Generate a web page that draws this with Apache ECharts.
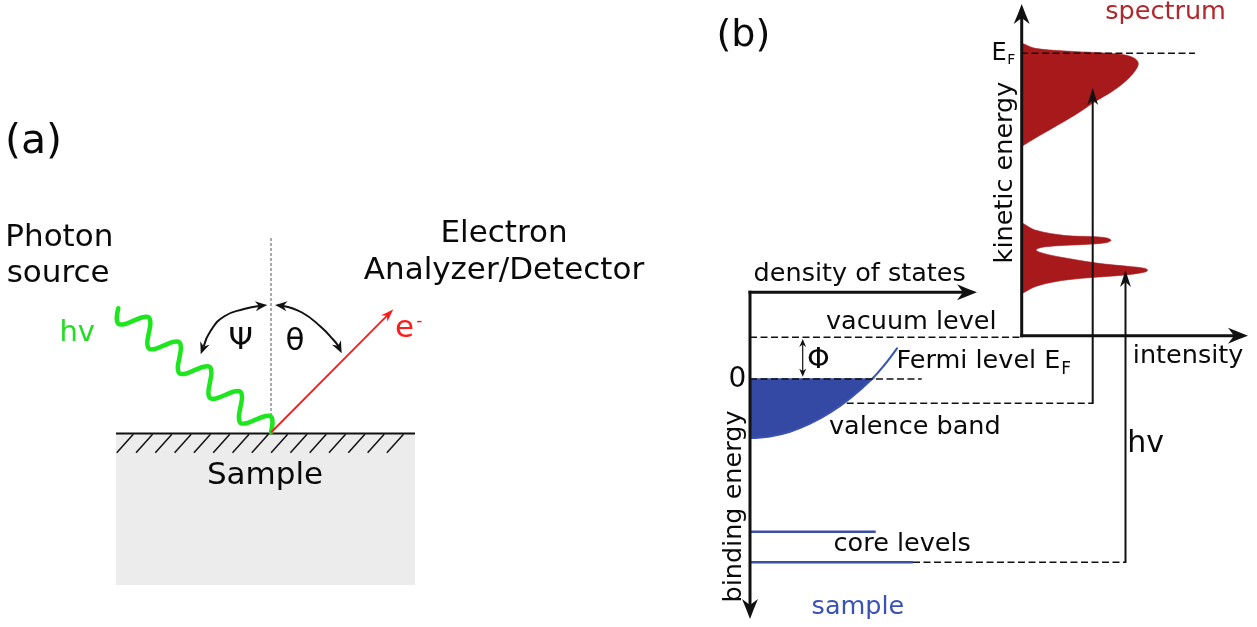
<!DOCTYPE html>
<html>
<head>
<meta charset="utf-8">
<script src="https://cdn.jsdelivr.net/npm/echarts@6/dist/echarts.min.js"></script>
<style>
  html, body { margin: 0; padding: 0; background: #ffffff; }
  #chart { width: 1257px; height: 627px; }
</style>
</head>
<body>
<div id="chart"></div>
<script>
// ===== Panel (a): photoemission geometry (diagram units) =====
const sampleBlock = [[116, 433], [415, 433], [415, 585], [116, 585]];
const surfaceLine = [[116, 433.5], [415, 433.5]];
const hatchStarts = [116.7, 136, 155.3, 174.6, 193.9, 213.2, 232.5, 251.8, 271.1, 290.4, 309.7, 329, 348.3, 367.6, 386.9];
const surfaceNormal = [[271, 238], [271, 432]];
const photonWave = [
  [118.3, 308.3], [116.8, 318.0], [118.4, 323.8], [124.4, 324.2], [133.6, 320.7],
  [142.7, 317.2], [148.8, 317.5], [150.4, 323.4], [148.8, 333.1], [147.3, 342.8],
  [148.9, 348.6], [154.9, 349.0], [164.1, 345.4], [173.3, 341.9], [179.3, 342.3],
  [180.9, 348.1], [179.4, 357.8], [177.8, 367.5], [179.4, 373.3], [185.5, 373.7],
  [194.6, 370.2], [203.8, 366.7], [209.8, 367.1], [211.4, 372.9], [209.9, 382.6],
  [208.4, 392.3], [210.0, 398.1], [216.0, 398.5], [225.2, 395.0], [234.3, 391.5],
  [240.4, 391.8], [242.0, 397.6], [240.4, 407.3], [238.9, 417.0], [240.5, 422.9],
  [246.6, 423.2], [255.7, 419.7], [264.9, 416.2], [270.9, 416.6], [272.5, 422.4],
  [271.0, 432.1]
];
const psiArc = [[259, 305.9], [244, 309], [224, 316.5], [210.5, 331], [204, 345.5]];
const thetaArc = [[283, 305.9], [302, 312.5], [321, 327], [334, 340.5], [338, 345.5]];
const electronPath = [[271, 432.5], [393.3, 309.3]];

// ===== Panel (b): energy levels and spectrum (diagram units) =====
const valenceBand = [[750, 438], [770, 436.4], [790, 431.7], [810, 423.7], [830, 412.7], [850, 398.4], [872, 379]];
const valenceTail = [[884, 365.5], [897, 348.3]];
const coreLevels = [
  [[750, 531.7], [875.7, 531.7]],
  [[750, 562.3], [913, 562.3]]
];
const guideLevels = [
  [[750, 337.3], [1021, 337.3]],     // vacuum level
  [[750, 379], [921.7, 379]],        // Fermi level
  [[846.7, 403.3], [1092.7, 403.3]], // valence-band emission
  [[913, 562.3], [1125.7, 562.3]],   // core-level emission
  [[1021, 53.3], [1195, 53.3]]       // E_F in the spectrum
];
const spectrumValence = [
  [1021, 43], [1024, 44], [1035, 48.3], [1065, 51], [1098.3, 52.7], [1122, 54.5],
  [1134, 58], [1138.3, 63.3], [1135, 71], [1125, 81.7], [1111.7, 91.7], [1095, 101.7],
  [1075, 115], [1055, 126.7], [1035, 138.3], [1024, 145], [1021, 147]
];
const spectrumCore = [
  [1021, 222.5], [1024, 224], [1035, 230], [1065, 235.5], [1095, 236.7], [1107, 238],
  [1111, 240.3], [1107, 242.5], [1088.3, 244.3], [1058.3, 245.7], [1041, 247.5], [1036, 250],
  [1041, 252.7], [1058.3, 256.7], [1098.3, 263.3], [1131.7, 266.7], [1144, 268.2], [1147.7, 270.2],
  [1144, 272.3], [1125, 275], [1081.7, 278.3], [1055, 281.7], [1035, 286.7], [1024, 292.5], [1021, 294]
];

// Arrows: shaft from -> tip
const axisArrows = [
  { from: [748.5, 292.3], to: [977, 292.3] },    // density of states
  { from: [750, 290.8], to: [750, 619] },        // binding energy
  { from: [1021.7, 337.2], to: [1021.7, 4] },    // kinetic energy
  { from: [1020.2, 335.7], to: [1248, 335.7] }   // intensity
];
const emissionArrows = [
  { from: [1092.7, 404], to: [1092.7, 88] },
  { from: [1125.5, 563], to: [1125.5, 270] }
];
const workFunctionArrow = [{ from: [802.7, 339], to: [802.7, 376.7], both: true }];
const arcHeads = [
  { from: [256, 306.2], to: [267.3, 305], head: true },
  { from: [205.5, 341.5], to: [200.7, 354.3], head: true },
  { from: [286, 306.2], to: [275, 305], head: true },
  { from: [336, 341.5], to: [341.7, 353.3], head: true }
];
const electronArrow = [{ from: electronPath[0], to: electronPath[1] }];

// Text labels and where they sit
const FONT = '"DejaVu Sans", sans-serif';
const labels = [
  { text: '(a)', at: [5, 142.5], size: 41 },
  { text: 'Photon', at: [5.3, 237.6], size: 31 },
  { text: 'source', at: [6.7, 274.3], size: 31 },
  { text: 'Electron', at: [504, 234.3], size: 31, align: 'center' },
  { text: 'Analyzer/Detector', at: [504, 271], size: 31, align: 'center' },
  { text: 'hv', at: [59.4, 333], size: 29, color: '#22dd22' },
  { text: 'Ψ', at: [240.8, 341.3], size: 31, align: 'center' },
  { text: 'θ', at: [295, 342], size: 31, align: 'center' },
  { text: 'e', at: [395, 329.3], size: 31, color: '#ff1a1a' },
  { text: '-', at: [419.2, 321.3], size: 17, color: '#ff1a1a', align: 'center' },
  { text: 'Sample', at: [265, 476], size: 31, align: 'center' },

  { text: '(b)', at: [716.5, 36], size: 38 },
  { text: 'density of states', at: [753.6, 274.5], size: 25.5 },
  { text: 'vacuum level', at: [826, 322.2], size: 25.5 },
  { text: 'Fermi level E', at: [896.5, 361.2], size: 25.5 },
  { text: 'F', at: [1061.3, 369.8], size: 17 },
  { text: '0', at: [737.3, 379.3], size: 28, align: 'center' },
  { text: 'Φ', at: [818.3, 360], size: 29, align: 'center' },
  { text: 'valence band', at: [829, 427.2], size: 25.5 },
  { text: 'core levels', at: [833.6, 544.2], size: 25.5 },
  { text: 'sample', at: [811.6, 607.2], size: 25.5, color: '#3b52b4' },
  { text: 'hv', at: [1127.3, 444.1], size: 30 },
  { text: 'intensity', at: [1132.8, 356.2], size: 25.5 },
  { text: 'spectrum', at: [1105.3, 11.9], size: 25.5, color: '#b0282b' },
  { text: 'E', at: [991.5, 53.4], size: 24 },
  { text: 'F', at: [1007.2, 60.2], size: 14 },
  { text: 'kinetic energy', at: [1005.4, 172.5], size: 25.5, align: 'center', rotate: 90 },
  { text: 'binding energy', at: [734, 506.5], size: 25.5, align: 'center', rotate: 90 }
];

// ===== Series builders =====
function toPixels(api, points) {
  return points.map(function (p) { return api.coord(p); });
}

// One graphic element built from a whole point list
function shapeSeries(points, build, z) {
  return {
    type: 'custom', coordinateSystem: 'cartesian2d', silent: true, z: z,
    data: points,
    renderItem: function (params, api) {
      if (params.dataIndex !== 0) return null;
      return build(toPixels(api, points));
    }
  };
}

function filledArea(points, fill, smooth, z) {
  // an open smooth outline; the fill closes it with a straight edge
  return shapeSeries(points, function (px) {
    return { type: 'polyline', shape: { points: px, smooth: smooth }, style: { fill: fill, stroke: fill, lineWidth: 0.6 } };
  }, z);
}

function filledPolygon(points, fill, edge, z) {
  return shapeSeries(points, function (px) {
    return { type: 'polygon', shape: { points: px }, style: { fill: fill, stroke: fill, lineWidth: edge, lineJoin: 'miter' } };
  }, z);
}

function curve(points, color, width, smooth, z) {
  return shapeSeries(points, function (px) {
    return {
      type: 'polyline', shape: { points: px, smooth: smooth },
      style: { fill: null, stroke: color, lineWidth: width, lineCap: 'round', lineJoin: 'round' }
    };
  }, z);
}

function segmentSeries(segments, style, z) {
  return {
    type: 'custom', coordinateSystem: 'cartesian2d', silent: true, z: z,
    data: segments.map(function (s) { return [s[0][0], s[0][1], s[1][0], s[1][1]]; }),
    encode: { x: [0, 2], y: [1, 3] },
    renderItem: function (params, api) {
      const a = api.coord([api.value(0), api.value(1)]);
      const b = api.coord([api.value(2), api.value(3)]);
      return {
        type: 'line',
        shape: { x1: a[0], y1: a[1], x2: b[0], y2: b[1] },
        style: Object.assign({ fill: null, lineCap: 'butt' }, style)
      };
    }
  };
}

function headPoints(tip, from, L, W) {
  const dx = tip[0] - from[0], dy = tip[1] - from[1];
  const d = Math.hypot(dx, dy) || 1;
  const ux = dx / d, uy = dy / d, nx = -uy, ny = ux;
  const P = function (s, t) { return [tip[0] + ux * s + nx * t, tip[1] + uy * s + ny * t]; };
  return [P(0, 0), P(-0.5 * L, 0.24 * W), P(-L, 0.5 * W), P(-0.7 * L, 0), P(-L, -0.5 * W), P(-0.5 * L, -0.24 * W)];
}

function arrowSeries(arrows, color, width, L, W, z) {
  return {
    type: 'custom', coordinateSystem: 'cartesian2d', silent: true, z: z,
    data: arrows.map(function (a) { return [a.to[0], a.to[1]]; }),
    renderItem: function (params, api) {
      const a = arrows[params.dataIndex];
      const p0 = api.coord(a.from), p1 = api.coord(a.to);
      const children = [];
      const dx = p1[0] - p0[0], dy = p1[1] - p0[1];
      const d = Math.hypot(dx, dy) || 1;
      const ux = dx / d, uy = dy / d;
      if (!a.head) {
        const s = a.both ? 0.6 * L : 0;
        children.push({
          type: 'line',
          shape: { x1: p0[0] + ux * s, y1: p0[1] + uy * s, x2: p1[0] - ux * 0.6 * L, y2: p1[1] - uy * 0.6 * L },
          style: { stroke: color, lineWidth: width, fill: null }
        });
      }
      children.push({ type: 'polygon', shape: { points: headPoints(p1, p0, L, W) }, style: { fill: color } });
      if (a.both) {
        children.push({ type: 'polygon', shape: { points: headPoints(p0, p1, L, W) }, style: { fill: color } });
      }
      return { type: 'group', children: children };
    }
  };
}

function labelSeries(items, z) {
  return {
    type: 'custom', coordinateSystem: 'cartesian2d', silent: true, z: z,
    data: items.map(function (t) { return t.at; }),
    renderItem: function (params, api) {
      const t = items[params.dataIndex];
      const p = api.coord(t.at);
      return {
        type: 'text',
        x: p[0], y: p[1],
        rotation: (t.rotate || 0) * Math.PI / 180,
        style: {
          text: t.text,
          fill: t.color || '#0a0a0a',
          font: t.size + 'px ' + FONT,
          align: t.align || 'left',
          verticalAlign: 'middle'
        }
      };
    }
  };
}

const hatchSegments = hatchStarts.map(function (x) { return [[x, 452.7], [x + 16.6, 434.3]]; });
const bandCorner = [valenceBand[0], valenceBand[valenceBand.length - 1], [750, 379]];

const option = {
  animation: false,
  backgroundColor: '#ffffff',
  grid: { left: 0, right: 0, top: 0, bottom: 0, containLabel: false },
  xAxis: { type: 'value', min: 0, max: 1257, show: false },
  yAxis: { type: 'value', min: 0, max: 627, inverse: true, show: false },
  series: [
    // panel (a)
    filledPolygon(sampleBlock, '#ececec', 0, 1),
    segmentSeries(hatchSegments, { stroke: '#111111', lineWidth: 1.5 }, 2),
    segmentSeries([surfaceLine], { stroke: '#111111', lineWidth: 2 }, 3),
    segmentSeries([surfaceNormal], { stroke: '#555555', lineWidth: 1, lineDash: [3, 2] }, 3),
    curve(photonWave, '#1ee61e', 4.5, 0.35, 4),
    curve(psiArc, '#111111', 2, 0.5, 4),
    curve(thetaArc, '#111111', 2, 0.5, 4),
    arrowSeries(arcHeads, '#111111', 2, 12, 10, 5),
    arrowSeries(electronArrow, '#ff1a1a', 1.8, 13, 9, 5),

    // panel (b)
    filledArea(spectrumValence, '#a8191c', 0.35, 2),
    filledArea(spectrumCore, '#a8191c', 0.35, 2),
    filledPolygon(bandCorner, '#3449a4', 1.6, 2),
    filledArea(valenceBand, '#3449a4', 0.4, 2),
    curve(valenceBand.concat(valenceTail), '#3a52b0', 2, 0.4, 3),
    segmentSeries(coreLevels, { stroke: '#3a4fa8', lineWidth: 2.5 }, 3),
    segmentSeries(guideLevels, { stroke: '#111111', lineWidth: 1.6, lineDash: [7, 3.5] }, 4),
    arrowSeries(emissionArrows, '#111111', 2, 17, 11, 5),
    arrowSeries(workFunctionArrow, '#111111', 1.2, 8, 7, 5),
    arrowSeries(axisArrows, '#111111', 3, 20, 16, 6),

    labelSeries(labels, 10)
  ]
};

const chart = echarts.init(document.getElementById('chart'), null, { width: 1257, height: 627 });
chart.setOption(option);
</script>
</body>
</html>
